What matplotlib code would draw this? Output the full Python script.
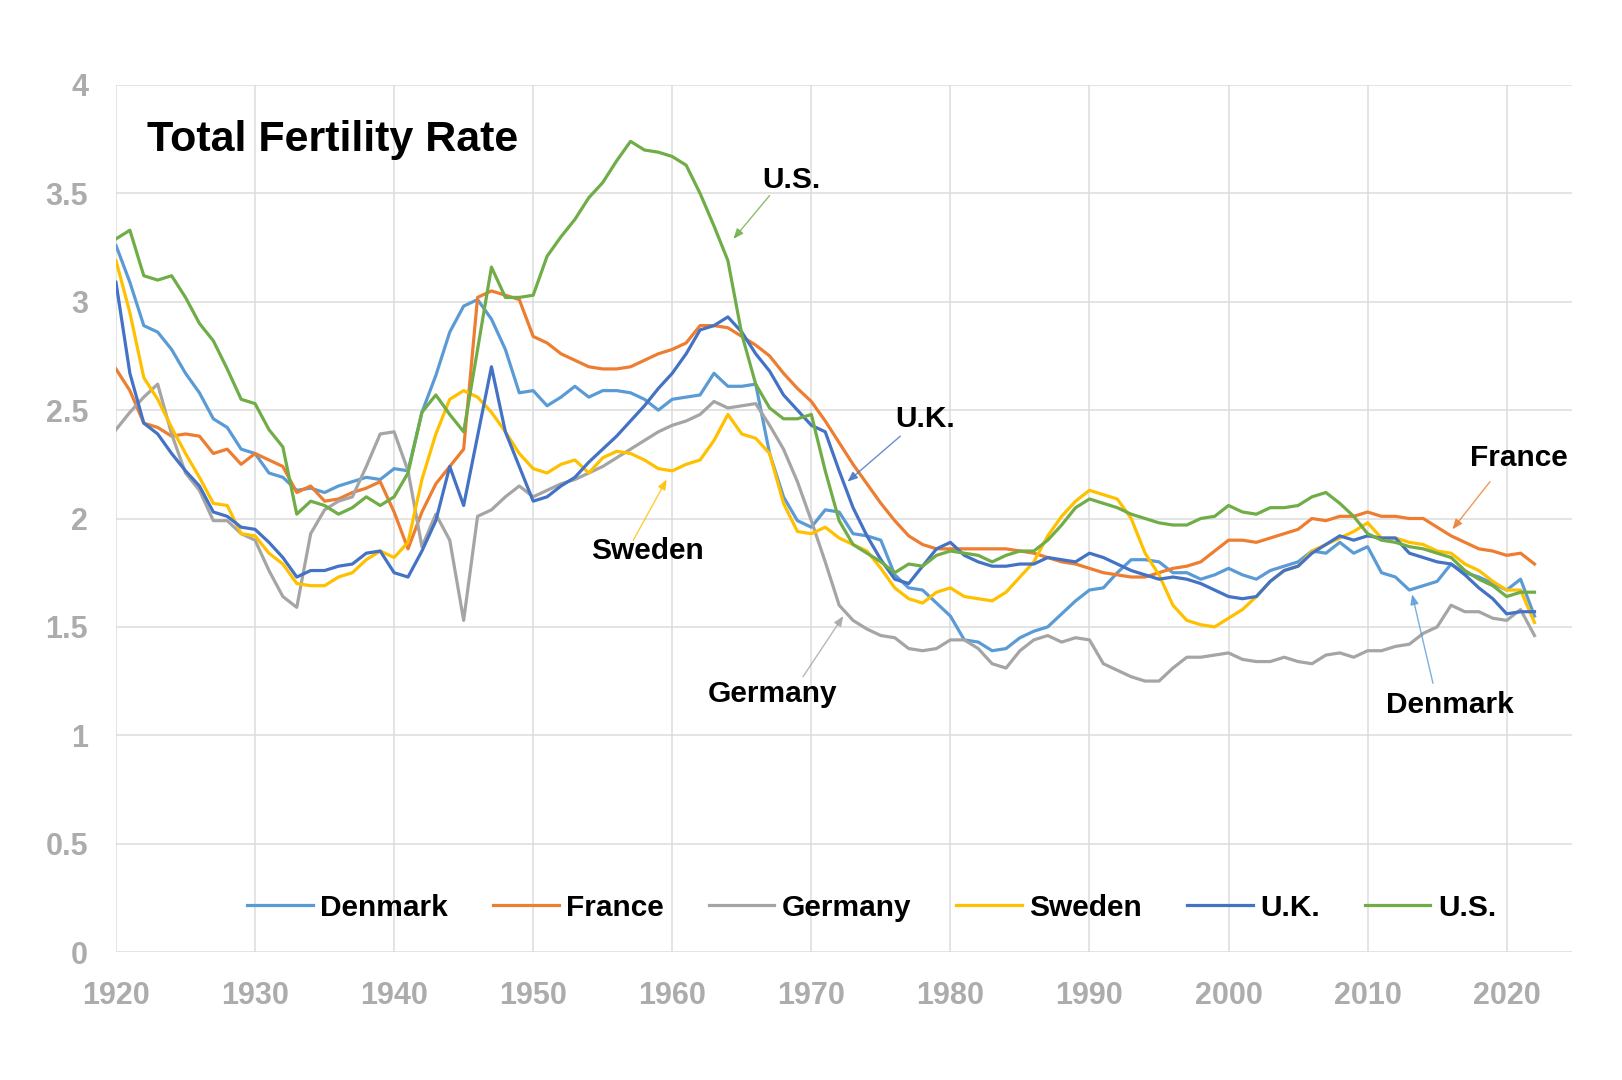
import numpy as np
import matplotlib

matplotlib.use("Agg")
import matplotlib.pyplot as plt

plt.rcParams["font.family"] = ["Liberation Sans", "DejaVu Sans"]

# Total fertility rate, 1920-2022
years = np.arange(1920, 2023)

denmark = [
    3.26, 3.09, 2.89, 2.86, 2.78, 2.67, 2.58, 2.46, 2.42, 2.32,
    2.30, 2.21, 2.19, 2.13, 2.14, 2.12, 2.15, 2.17, 2.19, 2.18,
    2.23, 2.22, 2.49, 2.66, 2.86, 2.98, 3.01, 2.92, 2.78, 2.58,
    2.59, 2.52, 2.56, 2.61, 2.56, 2.59, 2.59, 2.58, 2.55, 2.50,
    2.55, 2.56, 2.57, 2.67, 2.61, 2.61, 2.62, 2.30, 2.10, 1.99,
    1.96, 2.04, 2.03, 1.93, 1.92, 1.90, 1.74, 1.68, 1.67, 1.61,
    1.55, 1.44, 1.43, 1.39, 1.40, 1.45, 1.48, 1.50, 1.56, 1.62,
    1.67, 1.68, 1.75, 1.81, 1.81, 1.80, 1.75, 1.75, 1.72, 1.74,
    1.77, 1.74, 1.72, 1.76, 1.78, 1.80, 1.85, 1.84, 1.89, 1.84,
    1.87, 1.75, 1.73, 1.67, 1.69, 1.71, 1.79, 1.75, 1.73, 1.70,
    1.67, 1.72, 1.55,
]
france = [
    2.69, 2.59, 2.44, 2.42, 2.38, 2.39, 2.38, 2.30, 2.32, 2.25,
    2.30, 2.27, 2.24, 2.12, 2.15, 2.08, 2.09, 2.12, 2.14, 2.17,
    2.03, 1.86, 2.03, 2.16, 2.24, 2.32, 3.02, 3.05, 3.03, 3.01,
    2.84, 2.81, 2.76, 2.73, 2.70, 2.69, 2.69, 2.70, 2.73, 2.76,
    2.78, 2.81, 2.89, 2.89, 2.88, 2.84, 2.80, 2.75, 2.67, 2.60,
    2.54, 2.45, 2.35, 2.25, 2.16, 2.07, 1.99, 1.92, 1.88, 1.86,
    1.86, 1.86, 1.86, 1.86, 1.86, 1.85, 1.84, 1.82, 1.80, 1.79,
    1.77, 1.75, 1.74, 1.73, 1.73, 1.75, 1.77, 1.78, 1.80, 1.85,
    1.90, 1.90, 1.89, 1.91, 1.93, 1.95, 2.00, 1.99, 2.01, 2.01,
    2.03, 2.01, 2.01, 2.00, 2.00, 1.96, 1.92, 1.89, 1.86, 1.85,
    1.83, 1.84, 1.79,
]
germany = [
    2.41, 2.49, 2.56, 2.62, 2.39, 2.21, 2.13, 1.99, 1.99, 1.93,
    1.90, 1.76, 1.64, 1.59, 1.93, 2.04, 2.08, 2.10, 2.24, 2.39,
    2.40, 2.22, 1.87, 2.02, 1.90, 1.53, 2.01, 2.04, 2.10, 2.15,
    2.10, 2.13, 2.16, 2.18, 2.21, 2.24, 2.28, 2.32, 2.36, 2.40,
    2.43, 2.45, 2.48, 2.54, 2.51, 2.52, 2.53, 2.43, 2.32, 2.17,
    1.99, 1.80, 1.60, 1.53, 1.49, 1.46, 1.45, 1.40, 1.39, 1.40,
    1.44, 1.44, 1.40, 1.33, 1.31, 1.39, 1.44, 1.46, 1.43, 1.45,
    1.44, 1.33, 1.30, 1.27, 1.25, 1.25, 1.31, 1.36, 1.36, 1.37,
    1.38, 1.35, 1.34, 1.34, 1.36, 1.34, 1.33, 1.37, 1.38, 1.36,
    1.39, 1.39, 1.41, 1.42, 1.47, 1.50, 1.60, 1.57, 1.57, 1.54,
    1.53, 1.58, 1.46,
]
sweden = [
    3.19, 2.95, 2.65, 2.55, 2.42, 2.30, 2.19, 2.07, 2.06, 1.93,
    1.92, 1.84, 1.79, 1.70, 1.69, 1.69, 1.73, 1.75, 1.81, 1.85,
    1.82, 1.89, 2.18, 2.39, 2.55, 2.59, 2.56, 2.49, 2.40, 2.30,
    2.23, 2.21, 2.25, 2.27, 2.21, 2.28, 2.31, 2.30, 2.27, 2.23,
    2.22, 2.25, 2.27, 2.36, 2.48, 2.39, 2.37, 2.30, 2.07, 1.94,
    1.93, 1.96, 1.91, 1.88, 1.85, 1.77, 1.68, 1.63, 1.61, 1.66,
    1.68, 1.64, 1.63, 1.62, 1.66, 1.73, 1.80, 1.92, 2.01, 2.08,
    2.13, 2.11, 2.09, 2.00, 1.84, 1.74, 1.60, 1.53, 1.51, 1.50,
    1.54, 1.58, 1.64, 1.71, 1.76, 1.78, 1.85, 1.88, 1.91, 1.94,
    1.98, 1.91, 1.91, 1.89, 1.88, 1.85, 1.84, 1.79, 1.76, 1.71,
    1.67, 1.67, 1.52,
]
uk = [
    3.09, 2.67, 2.44, 2.39, 2.30, 2.22, 2.15, 2.03, 2.01, 1.96,
    1.95, 1.89, 1.82, 1.73, 1.76, 1.76, 1.78, 1.79, 1.84, 1.85,
    1.75, 1.73, 1.85, 1.99, 2.24, 2.06, 2.38, 2.70, 2.40, 2.24,
    2.08, 2.10, 2.15, 2.19, 2.26, 2.32, 2.38, 2.45, 2.52, 2.60,
    2.67, 2.76, 2.87, 2.89, 2.93, 2.86, 2.76, 2.68, 2.57, 2.50,
    2.43, 2.40, 2.22, 2.05, 1.92, 1.81, 1.72, 1.70, 1.78, 1.86,
    1.89, 1.83, 1.80, 1.78, 1.78, 1.79, 1.79, 1.82, 1.81, 1.80,
    1.84, 1.82, 1.79, 1.76, 1.74, 1.72, 1.73, 1.72, 1.70, 1.67,
    1.64, 1.63, 1.64, 1.71, 1.76, 1.78, 1.84, 1.88, 1.92, 1.90,
    1.92, 1.91, 1.91, 1.84, 1.82, 1.80, 1.79, 1.74, 1.68, 1.63,
    1.56, 1.57, 1.57,
]
us = [
    3.29, 3.33, 3.12, 3.10, 3.12, 3.02, 2.90, 2.82, 2.69, 2.55,
    2.53, 2.41, 2.33, 2.02, 2.08, 2.06, 2.02, 2.05, 2.10, 2.06,
    2.10, 2.21, 2.49, 2.57, 2.48, 2.40, 2.78, 3.16, 3.02, 3.02,
    3.03, 3.21, 3.30, 3.38, 3.48, 3.55, 3.65, 3.74, 3.70, 3.69,
    3.67, 3.63, 3.50, 3.35, 3.19, 2.85, 2.62, 2.51, 2.46, 2.46,
    2.48, 2.22, 1.99, 1.88, 1.84, 1.80, 1.75, 1.79, 1.78, 1.83,
    1.85, 1.84, 1.83, 1.80, 1.83, 1.85, 1.85, 1.90, 1.97, 2.05,
    2.09, 2.07, 2.05, 2.02, 2.00, 1.98, 1.97, 1.97, 2.00, 2.01,
    2.06, 2.03, 2.02, 2.05, 2.05, 2.06, 2.10, 2.12, 2.07, 2.01,
    1.93, 1.90, 1.89, 1.87, 1.86, 1.84, 1.82, 1.76, 1.72, 1.69,
    1.64, 1.66, 1.66,
]

countries = ["Denmark", "France", "Germany", "Sweden", "U.K.", "U.S."]
colors = ["#5B9BD5", "#ED7D31", "#A5A5A5", "#FFC000", "#4472C4", "#70AD47"]
series = [denmark, france, germany, sweden, uk, us]

x_ticks = list(range(1920, 2021, 10))
y_ticks = [0, 0.5, 1, 1.5, 2, 2.5, 3, 3.5, 4]

# label text position and arrow (start, head) in data units
labels = {
    "U.S.": ((1968.6, 3.56), (1967.0, 3.49), (1964.4, 3.29)),
    "U.K.": ((1978.2, 2.46), (1976.4, 2.38), (1972.6, 2.17)),
    "Sweden": ((1958.2, 1.85), (1957.2, 1.90), (1959.6, 2.18)),
    "Germany": ((1967.2, 1.19), (1969.4, 1.27), (1972.3, 1.55)),
    "France": ((2020.9, 2.28), (2018.8, 2.17), (2016.1, 1.95)),
    "Denmark": ((2015.9, 1.14), (2014.7, 1.24), (2013.2, 1.65)),
}

fig = plt.figure(figsize=(16.22, 10.8), dpi=100)
ax = fig.add_axes([0.0715, 0.1185, 0.8977, 0.8028])

for name, vals, c in zip(countries, series, colors):
    ax.plot(years, vals, color=c, lw=2.3, label=name, solid_joinstyle="round")

ax.set_xlim(1920, 2024.7)
ax.set_ylim(0, 4)
ax.set_xticks(x_ticks)
ax.set_yticks(y_ticks)
ax.set_yticklabels([f"{v:g}" for v in y_ticks])
ax.grid(True, color="#dcdcdc", lw=1.1)
ax.set_axisbelow(True)
for s in ax.spines.values():
    s.set_visible(False)
ax.tick_params(length=0, labelsize=22, labelcolor="#acacac")
ax.tick_params(axis="y", pad=20)
ax.tick_params(axis="x", pad=21)
for lbl in ax.get_xticklabels() + ax.get_yticklabels():
    lbl.set_fontweight("bold")

ax.text(0.021, 0.96, "Total Fertility Rate", transform=ax.transAxes,
        fontsize=31, fontweight="bold", color="black", va="top", ha="left")

for name, c in zip(countries, colors):
    (tx, ty), start, head = labels[name]
    ax.text(tx, ty, name, fontsize=21.5, fontweight="bold", ha="center", va="center")
    ax.annotate("", xy=head, xytext=start,
                arrowprops=dict(arrowstyle="-|>,head_length=0.6,head_width=0.25",
                                color=c, lw=1.0, alpha=0.8, shrinkA=0, shrinkB=0))

leg = ax.legend(loc="center", bbox_to_anchor=(0.519, 0.051), ncol=6, frameon=False,
                prop={"size": 21.5, "weight": "bold"}, handlelength=2.2,
                handletextpad=0.25, columnspacing=1.5)

fig.savefig("out.png", dpi=100, facecolor="white")
